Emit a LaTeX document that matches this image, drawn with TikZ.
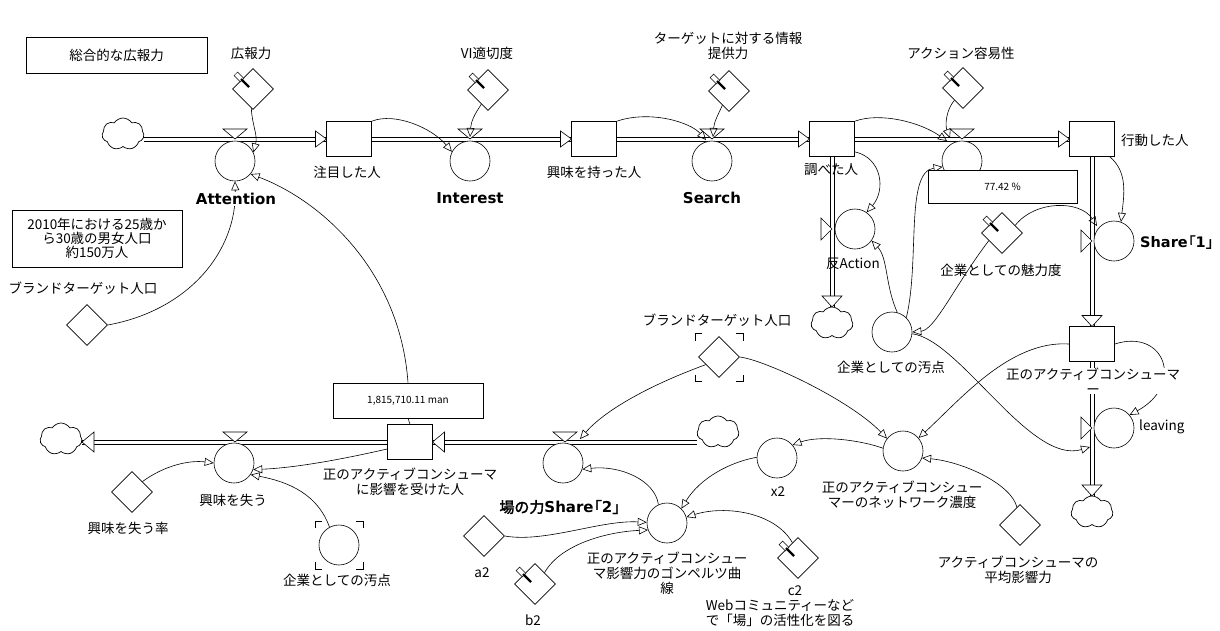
\documentclass[tikz,border=0pt]{standalone}
\usepackage{fontspec}
\setmainfont{Noto Sans CJK JP}
\newfontfamily\dv{DejaVu Sans}
\newfontfamily\jpb{Noto Sans CJK JP}[FakeBold=2]
\usetikzlibrary{shapes.geometric,shapes.symbols,arrows.meta}
\pgfdeclarelayer{bg}
\pgfsetlayers{bg,main}
\tikzset{
 aux/.style={circle, draw, fill=white, minimum size=40pt, inner sep=0pt, line width=0.6pt},
 stockbox/.style={rectangle, draw, fill=white, minimum width=45pt, minimum height=35pt, inner sep=0pt, line width=0.6pt},
 cons/.style={diamond, draw, fill=white, minimum width=41pt, minimum height=41pt, inner sep=0pt, line width=0.6pt},
 cloudy/.style={cloud, draw, fill=white, cloud puffs=7, cloud puff arc=115, aspect=1.35, minimum width=42pt, minimum height=32pt, inner sep=0pt, line width=0.7pt},
 lbl/.style={font=\fontsize{13.5}{15}\selectfont, inner sep=1pt, align=center},
 bld/.style={font=\fontsize{15}{17}\selectfont, inner sep=1pt},
 link/.style={line width=0.6pt, -{Triangle[open, length=9pt, width=8pt]}},
 pline/.style={line width=0.7pt},
 flowtip/.style={draw, fill=white, line width=0.6pt},
 valbox/.style={rectangle, draw, fill=white, line width=0.6pt, font=\fontsize{10}{12}\selectfont},
 brk/.style={line width=0.7pt},
}
\newcommand\pipeH[2]{\draw[pline, transform canvas={yshift=1.9pt}] #1 -- #2; \draw[pline, transform canvas={yshift=-1.9pt}] #1 -- #2;}
\newcommand\pipeV[2]{\draw[pline, transform canvas={xshift=1.9pt}] #1 -- #2; \draw[pline, transform canvas={xshift=-1.9pt}] #1 -- #2;}
\newcommand\vdown[2]{\draw[flowtip] ({#1-12},{-#2+10}) -- ({#1+12},{-#2+10}) -- (#1,-#2) -- cycle;}
\newcommand\vright[2]{\draw[flowtip] ({#1-11},{-#2+11}) -- ({#1-11},{-#2-11}) -- (#1,-#2) -- cycle;}
\newcommand\fright[2]{\draw[flowtip] ({#1-11},{-#2+8}) -- ({#1-11},{-#2-8}) -- (#1,-#2) -- cycle;}
\newcommand\fdown[2]{\draw[flowtip] ({#1-10},{-#2+11}) -- ({#1+10},{-#2+11}) -- (#1,-#2) -- cycle;}
\newcommand\fleft[2]{\draw[flowtip] ({#1+12},{-#2+10}) -- ({#1+12},{-#2-10}) -- (#1,-#2) -- cycle;}
\newcommand\pinon[1]{%
 \node[draw, fill=white, line width=0.5pt, minimum width=9pt, minimum height=5pt, inner sep=0pt, rotate=-45, name=#1pin] at ([shift={(-14,12)}]#1.center) {};
 \draw[line width=2.2pt] ([shift={(-12,10)}]#1.center) -- ([shift={(-4,2)}]#1.center);}
\newcommand\corners[3]{%
 \draw[brk] ({#1-#3},{-#2+#3-7}) -- ({#1-#3},{-#2+#3}) -- ({#1-#3+7},{-#2+#3});
 \draw[brk] ({#1+#3-7},{-#2+#3}) -- ({#1+#3},{-#2+#3}) -- ({#1+#3},{-#2+#3-7});
 \draw[brk] ({#1-#3},{-#2-#3+7}) -- ({#1-#3},{-#2-#3}) -- ({#1-#3+7},{-#2-#3});
 \draw[brk] ({#1+#3-7},{-#2-#3}) -- ({#1+#3},{-#2-#3}) -- ({#1+#3},{-#2-#3+7});}
\newcommand\lbr{{\jpb\kern-0.45em「}}
\newcommand\rbr{{\jpb 」\kern-0.45em}}
\begin{document}
\begin{tikzpicture}[x=1pt,y=1pt]
\useasboundingbox (0,0) rectangle (1220,-630);

% stocks
\node[stockbox] (stock1) at (349,-139) {};
\node[stockbox] (stock2) at (594,-139) {};
\node[stockbox] (stock3) at (832,-139) {};
\node[stockbox] (stock4) at (1092,-139) {};
\node[stockbox] (stock5) at (1092,-344) {};
\node[stockbox] (stock6) at (410,-442) {};

% auxiliaries
\node[aux] (att) at (235,-161) {};
\node[aux] (interest) at (470,-161) {};
\node[aux] (search) at (712,-161) {};
\node[aux] (action) at (962,-161) {};
\node[aux] (hanact) at (855,-229) {};
\node[aux] (share1) at (1114,-241) {};
\node[aux] (osen) at (892,-332) {};
\node[aux] (leaving) at (1114,-428) {};
\node[aux] (lose) at (234,-463) {};
\node[aux] (share2) at (563,-463) {};
\node[aux] (xtwo) at (777,-458) {};
\node[aux] (gomp) at (667,-523) {};
\node[aux] (density) at (903,-451) {};
\node[aux] (osentwo) at (339,-545) {};

% constants
\node[cons] (kouhou) at (253,-89) {};
\node[cons] (vi) at (488,-90) {};
\node[cons] (target) at (729,-91) {};
\node[cons] (easy) at (963,-88) {};
\node[cons] (miryoku) at (1002,-233) {};
\node[cons] (brandL) at (87,-325) {};
\node[cons] (brandR) at (719,-357) {};
\node[cons] (loserate) at (132,-492) {};
\node[cons] (a2) at (484,-536) {};
\node[cons] (b2) at (535,-584) {};
\node[cons] (c2) at (798,-558) {};
\node[cons] (avginf) at (1020,-525) {};

% clouds
\node[cloudy] (cloudTL) at (123,-134) {};
\node[cloudy] (cloudAct) at (832,-323) {};
\node[cloudy] (cloudBR) at (1092,-512) {};
\node[cloudy] (cloudBL) at (61,-439) {};
\node[cloudy] (cloudBM) at (718,-432) {};

% background and pipes
\begin{pgfonlayer}{bg}
\fill[white] (0,0) rectangle (1220,-630);
\pipeH{(cloudTL.east |- stock1.west)}{(stock1.west)}
\pipeH{(stock1.east)}{(stock2.west)}
\pipeH{(stock2.east)}{(stock3.west)}
\pipeH{(stock3.east)}{(stock4.west)}
\pipeV{(stock4.south)}{(stock5.north)}
\pipeV{(stock3.south)}{(cloudAct.north)}
\pipeV{(stock5.south)}{(cloudBR.north)}
\pipeH{(stock6.west)}{(cloudBL.east |- stock6.west)}
\pipeH{(cloudBM.west |- stock6.east)}{(stock6.east)}
\end{pgfonlayer}

% valves and flow tips
\vdown{235}{139} \vdown{470}{139} \vdown{712}{139} \vdown{962}{139}
\vdown{235}{442} \vdown{565}{442}
\vright{1092}{241} \vright{1092}{428} \vright{832}{229}
\fright{326.5}{139} \fright{571.5}{139} \fright{809.5}{139} \fright{1069.5}{139}
\fdown{1092}{326.5} \fdown{832}{307} \fdown{1092}{496}
\fleft{432.5}{442} \fleft{82}{442}

% shadow brackets
\corners{719}{357.5}{24}
\corners{339}{545}{24}

% pins
\pinon{kouhou} \pinon{vi} \pinon{target} \pinon{easy} \pinon{miryoku} \pinon{b2} \pinon{c2}

% value box for stock6
\node[valbox, minimum width=150pt, minimum height=35pt] (vb1) at (408,-400.5) {1,815,710.11 man};
\draw[line width=0.6pt] (vb1.south) -- (stock6.north);

% coordinates at valves
\coordinate (vI) at (470,-137);
\coordinate (vS) at (706,-140);
\coordinate (vS2) at (713,-137);
\coordinate (vA1) at (947,-141);
\coordinate (vA2) at (950,-138);
\coordinate (vSh) at (1097,-226);
\coordinate (vL) at (1090,-447);
\coordinate (vSh2) at (580,-439);

% links
\draw[link] (kouhou.-95) .. controls (252,-125) and (258,-135) .. (att.25);
\draw[link] (brandL.east) .. controls (190,-310) and (237,-250) .. (att.south);
\draw[link] (vb1.north) .. controls (400,-270) and (320,-200) .. (att.-40);
\draw[link] (stock1.north east) .. controls (395,-112) and (432,-128) .. (interest.153);
\draw[link] (vi.-115) .. controls (474,-115) and (471,-122) .. (vI);
\draw[link] (stock2.north east) .. controls (650,-110) and (690,-122) .. (vS);
\draw[link] (target.-115) .. controls (718,-115) and (714,-122) .. (vS2);
\draw[link] (stock3.north east) .. controls (880,-112) and (920,-122) .. (vA1);
\draw[link] (easy.-125) .. controls (946,-110) and (945,-125) .. (vA2);
\draw[link] (osen.45) .. controls (920,-260) and (905,-172) .. (action.197);
\draw[link] ([yshift=5pt]stock3.south east) .. controls (882,-158) and (886,-190) .. (hanact.55);
\draw[link] (osen.75) .. controls (885,-285) and (888,-258) .. (hanact.-35);
\draw[link] (miryoku.-150) .. controls (955,-285) and (935,-330) .. (osen.0);
\draw[link] (miryoku.30) .. controls (1035,-200) and (1080,-200) .. (vSh);
\draw[link] ([xshift=-5pt]stock4.south east) .. controls (1128,-172) and (1124,-195) .. (share1.70);
\draw[link] (osen.-5) .. controls (960,-340) and (1030,-465) .. (vL);
\draw[link] (stock5.east) .. controls (1165,-328) and (1185,-385) .. (leaving.40);
\draw[link] (stock5.west) .. controls (1010,-340) and (960,-400) .. (density.40);
\draw[link] (brandR.-150) .. controls (650,-385) and (605,-410) .. (vSh2);
\draw[link] (brandR.east) .. controls (765,-360) and (850,-400) .. (density.142);
\draw[link] (density.172) .. controls (860,-440) and (820,-435) .. (xtwo.40);
\draw[link] (xtwo.178) .. controls (730,-462) and (700,-478) .. (gomp.45);
\draw[link] (gomp.115) .. controls (655,-480) and (620,-465) .. (share2.-18);
\draw[link] (a2.east) .. controls (545,-543) and (600,-520) .. (gomp.178);
\draw[link] (b2.50) .. controls (560,-545) and (605,-532) .. (gomp.-160);
\draw[link] (c2.110) .. controls (775,-512) and (725,-505) .. (gomp.17);
\draw[link] (avginf.100) .. controls (1012,-485) and (965,-462) .. (density.-20);
\draw[link] ([yshift=-7pt]stock6.west) .. controls (330,-462) and (290,-468) .. (lose.-19);
\draw[link] (osentwo.118) .. controls (318,-495) and (290,-482) .. (lose.-35);
\draw[link] (loserate.45) .. controls (165,-465) and (190,-460) .. (lose.180);

% value box on action
\node[valbox, minimum width=149pt, minimum height=33pt] (vb2) at (1002.5,-186.5) {77.42 \%};

% labels
\node[draw, line width=0.6pt, minimum width=181pt, minimum height=36pt, lbl] (boxTitle) at (116.5,-55) {総合的な広報力};
\node[draw, line width=0.6pt, minimum width=170pt, minimum height=57pt, lbl, font=\fontsize{13.5}{14}\selectfont] (boxPop) at (97,-238.5) {2010年における25歳か\\ら30歳の男女人口\\約150万人};
\node[lbl] (l-kouhou) at (251,-53) {広報力};
\node[lbl] (l-vi) at (487,-53) {VI適切度};
\node[lbl] (l-target) at (728,-45.5) {ターゲットに対する情報\\提供力};
\node[lbl] (l-easy) at (961,-53) {アクション容易性};
\node[bld, fill=white] (l-att) at (236,-199) {\dv\bfseries Attention};
\node[bld] (l-interest) at (470,-198) {\dv\bfseries Interest};
\node[bld] (l-search) at (712,-198) {\dv\bfseries Search};
\node[lbl] (l-stock1) at (347,-172) {注目した人};
\node[lbl] (l-stock2) at (594,-172) {興味を持った人};
\node[lbl] (l-stock3) at (831,-170) {調べた人};
\node[lbl, anchor=west] (l-stock4) at (1120,-140) {行動した人};
\node[lbl] (l-hanact) at (853,-264) {反Action};
\node[bld, anchor=west, font=\fontsize{14.5}{17}\selectfont] (l-share1) at (1139,-242) {{\dv\bfseries Share}\lbr{\dv\bfseries 1}\rbr};
\node[lbl] (l-miryoku) at (1001,-270) {企業としての魅力度};
\node[lbl] (l-osen) at (891,-367) {企業としての汚点};
\node[lbl, fill=white, inner sep=0pt] (l-stock5) at (1093,-381) {正のアクティブコンシューマ\\ー};
\node[lbl, anchor=west] (l-leaving) at (1138,-427) {leaving};
\node[lbl] (l-brandL) at (83,-288) {ブランドターゲット人口};
\node[lbl] (l-brandR) at (717,-320) {ブランドターゲット人口};
\node[lbl] (l-stock6) at (410,-482) {正のアクティブコンシューマ\\に影響を受けた人};
\node[lbl] (l-lose) at (233,-500) {興味を失う};
\node[lbl] (l-loserate) at (128,-528) {興味を失う率};
\node[lbl] (l-osentwo) at (337,-580) {企業としての汚点};
\node[bld] (l-share2) at (560,-507) {{\jpb 場の力}{\dv\bfseries Share}\lbr{\dv\bfseries 2}\rbr};
\node[lbl] (l-xtwo) at (778,-492) {x2};
\node[lbl] (l-a2) at (482,-573) {a2};
\node[lbl] (l-b2) at (533,-620) {b2};
\node[lbl] (l-c2) at (795,-591) {c2};
\node[lbl] (l-web) at (780,-613) {Webコミュニティーなど\\で「場」の活性化を図る};
\node[lbl] (l-gomp) at (667,-573) {正のアクティブコンシュー\\マ影響力のゴンペルツ曲\\線};
\node[lbl] (l-density) at (902,-495) {正のアクティブコンシュー\\マーのネットワーク濃度};
\node[lbl] (l-avginf) at (1018,-570) {アクティブコンシューマの\\平均影響力};
\end{tikzpicture}
\end{document}
